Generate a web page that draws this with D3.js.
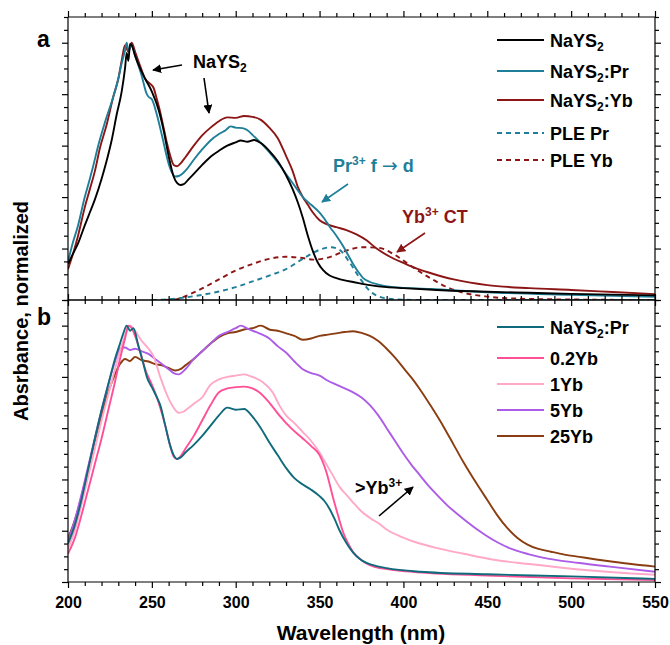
<!DOCTYPE html>
<html>
<head>
<meta charset="utf-8">
<script src="https://cdn.jsdelivr.net/npm/d3@7"></script>
<style>
  body { margin: 0; background: #fff; }
  svg { font-family: "Liberation Sans", Arial, sans-serif; font-weight: bold; }
  .axis path, .axis line { stroke: #000; stroke-width: 1.2; }
  .axis text { font-size: 16px; font-weight: bold; fill: #000; }
</style>
</head>
<body>
<svg id="chart" width="670" height="645"></svg>
<script>
// x ticks (nm)
const xTicks = [200, 250, 300, 350, 400, 450, 500, 550];

// panel a: undoped, Pr-doped and Yb-doped absorbance + PLE spectra
const nays2 = [[200,0.14],[203,0.18],[206,0.22],[210,0.29],[213,0.34],[216,0.39],[220,0.47],[223,0.54],[226,0.62],[229,0.72],[232,0.81],[234,0.9],[235,0.96],[236,0.93],[237,0.995],[238,0.99],[240,0.95],[243,0.9],[246,0.86],[250,0.81],[254,0.74],[257,0.66],[260,0.56],[263,0.48],[265,0.455],[267,0.447],[269,0.45],[272,0.47],[275,0.49],[280,0.525],[285,0.557],[290,0.58],[295,0.6],[300,0.613],[303,0.62],[307,0.615],[311,0.622],[315,0.61],[320,0.58],[325,0.54],[330,0.485],[334,0.43],[337,0.38],[340,0.32],[343,0.25],[346,0.19],[349,0.145],[352,0.117],[356,0.095],[360,0.085],[365,0.076],[370,0.07],[380,0.058],[390,0.05],[400,0.046],[420,0.039],[450,0.032],[475,0.028],[500,0.024],[525,0.021],[550,0.018]];
const naysPr = [[200,0.15],[203,0.225],[206,0.29],[210,0.4],[213,0.47],[215,0.52],[218,0.6],[222,0.69],[227,0.79],[230,0.86],[232,0.92],[234,0.97],[235,1.0],[236,0.97],[238,0.99],[240,0.95],[244,0.87],[247,0.8],[248,0.79],[250,0.78],[253,0.72],[256,0.64],[260,0.53],[262,0.495],[264,0.48],[266,0.482],[268,0.49],[271,0.51],[275,0.545],[280,0.585],[285,0.62],[290,0.645],[294,0.66],[297,0.675],[300,0.67],[304,0.668],[307,0.66],[310,0.642],[315,0.61],[320,0.575],[325,0.535],[330,0.49],[335,0.445],[340,0.4],[345,0.37],[350,0.34],[353,0.315],[356,0.285],[360,0.25],[364,0.21],[367,0.175],[370,0.14],[373,0.11],[376,0.085],[380,0.07],[385,0.06],[394,0.05],[416,0.043],[450,0.03],[500,0.02],[550,0.012]];
const naysYb = [[200,0.12],[203,0.18],[206,0.25],[210,0.36],[213,0.43],[216,0.5],[219,0.59],[223,0.68],[227,0.79],[230,0.86],[232,0.93],[234,0.99],[236,0.965],[238,1.0],[240,0.965],[243,0.91],[246,0.86],[249,0.84],[251,0.825],[253,0.78],[255,0.73],[257,0.67],[259,0.61],[261,0.56],[263,0.525],[265,0.52],[267,0.53],[270,0.555],[275,0.6],[280,0.64],[285,0.67],[290,0.695],[295,0.71],[300,0.708],[305,0.715],[310,0.712],[315,0.7],[320,0.67],[325,0.63],[330,0.56],[334,0.5],[337,0.44],[340,0.4],[343,0.37],[346,0.34],[350,0.31],[355,0.293],[360,0.283],[366,0.272],[372,0.255],[378,0.232],[384,0.2],[392,0.168],[400,0.144],[408,0.122],[416,0.105],[430,0.08],[450,0.058],[475,0.046],[500,0.039],[525,0.031],[550,0.023]];
const plePr = [[250,0],[260,0.003],[270,0.01],[280,0.02],[290,0.033],[300,0.05],[310,0.072],[320,0.095],[330,0.12],[340,0.16],[350,0.195],[357,0.205],[362,0.195],[368,0.145],[374,0.085],[380,0.035],[386,0.012],[395,0.003],[410,0],[550,0]];
const pleYb = [[258,0],[265,0.003],[270,0.015],[280,0.045],[290,0.08],[300,0.115],[310,0.14],[320,0.16],[330,0.168],[340,0.163],[346,0.157],[355,0.165],[365,0.19],[375,0.205],[385,0.203],[395,0.175],[405,0.13],[416,0.085],[426,0.05],[436,0.028],[450,0.013],[470,0.005],[500,0.002],[550,0]];

// panel b: Pr-doped with increasing Yb content
const bPr = [[200,0.15],[204,0.22],[208,0.32],[212,0.44],[216,0.56],[220,0.67],[224,0.77],[228,0.87],[231,0.93],[233,0.97],[235,1.0],[237,0.98],[239,0.99],[242,0.92],[245,0.85],[247,0.8],[250,0.76],[253,0.72],[255,0.69],[258,0.61],[261,0.53],[263,0.495],[265,0.48],[267,0.485],[270,0.505],[275,0.535],[280,0.57],[285,0.61],[290,0.65],[295,0.68],[300,0.672],[305,0.675],[310,0.645],[315,0.6],[320,0.545],[325,0.495],[330,0.445],[335,0.405],[340,0.38],[345,0.36],[350,0.335],[353,0.315],[356,0.285],[359,0.245],[362,0.2],[366,0.152],[370,0.115],[374,0.09],[378,0.075],[384,0.062],[390,0.054],[410,0.04],[450,0.03],[500,0.022],[550,0.012]];
const b02Yb = [[200,0.11],[204,0.17],[208,0.26],[212,0.36],[216,0.46],[220,0.56],[224,0.67],[228,0.78],[231,0.87],[234,0.95],[236,1.0],[238,0.99],[240,0.96],[243,0.9],[246,0.83],[250,0.77],[253,0.72],[255,0.68],[258,0.61],[261,0.53],[263,0.49],[265,0.48],[267,0.49],[270,0.52],[275,0.57],[280,0.63],[285,0.69],[290,0.74],[295,0.755],[300,0.76],[305,0.762],[310,0.755],[314,0.74],[320,0.7],[326,0.65],[333,0.6],[340,0.56],[345,0.53],[350,0.495],[354,0.43],[358,0.33],[361,0.26],[364,0.195],[367,0.15],[370,0.117],[375,0.085],[380,0.066],[387,0.053],[394,0.047],[405,0.04],[450,0.025],[500,0.014],[550,0.008]];
const b1Yb = [[200,0.13],[204,0.2],[208,0.3],[212,0.41],[216,0.52],[220,0.63],[224,0.73],[228,0.83],[231,0.9],[234,0.96],[237,1.0],[240,0.98],[244,0.94],[248,0.91],[251,0.88],[255,0.8],[259,0.73],[262,0.69],[266,0.66],[269,0.665],[272,0.68],[276,0.7],[280,0.72],[285,0.77],[290,0.79],[295,0.8],[300,0.805],[305,0.81],[310,0.8],[316,0.78],[322,0.74],[326,0.69],[330,0.65],[335,0.62],[340,0.585],[345,0.55],[350,0.505],[354,0.46],[358,0.415],[362,0.37],[366,0.34],[370,0.31],[375,0.275],[380,0.25],[386,0.225],[390,0.205],[398,0.178],[406,0.158],[420,0.132],[436,0.11],[453,0.088],[475,0.07],[503,0.05],[525,0.038],[550,0.028]];
const b5Yb = [[200,0.16],[204,0.24],[208,0.34],[212,0.45],[216,0.56],[220,0.67],[224,0.77],[228,0.86],[231,0.91],[234,0.915],[237,0.905],[240,0.91],[244,0.9],[248,0.89],[252,0.87],[256,0.85],[260,0.83],[263,0.815],[266,0.81],[270,0.83],[275,0.87],[280,0.9],[285,0.93],[290,0.96],[295,0.975],[300,0.99],[303,1.0],[308,0.985],[314,0.97],[320,0.95],[325,0.92],[330,0.895],[335,0.86],[340,0.83],[345,0.815],[350,0.805],[355,0.785],[360,0.77],[365,0.755],[370,0.74],[375,0.72],[380,0.69],[385,0.65],[390,0.6],[395,0.55],[400,0.5],[405,0.455],[410,0.415],[415,0.375],[420,0.34],[426,0.3],[436,0.245],[444,0.205],[456,0.155],[464,0.13],[475,0.108],[483,0.095],[505,0.074],[523,0.06],[550,0.04]];
const b25Yb = [[200,0.17],[204,0.24],[208,0.33],[212,0.44],[216,0.55],[220,0.65],[224,0.74],[228,0.81],[231,0.85],[234,0.87],[237,0.862],[240,0.878],[244,0.865],[248,0.86],[252,0.85],[256,0.845],[260,0.835],[264,0.825],[267,0.83],[270,0.845],[275,0.87],[280,0.9],[285,0.93],[290,0.955],[295,0.97],[300,0.975],[305,0.985],[310,0.99],[315,1.0],[320,0.985],[325,0.98],[330,0.97],[335,0.96],[340,0.945],[345,0.95],[350,0.96],[355,0.965],[360,0.97],[365,0.975],[370,0.978],[375,0.972],[380,0.96],[385,0.94],[390,0.91],[395,0.875],[400,0.835],[405,0.795],[410,0.75],[416,0.69],[424,0.605],[430,0.535],[436,0.465],[444,0.38],[450,0.32],[456,0.26],[462,0.21],[468,0.172],[474,0.146],[480,0.13],[488,0.118],[496,0.107],[505,0.098],[515,0.088],[525,0.079],[537,0.069],[550,0.06]];

const teal = "#1f7f98", tealDark = "#0f6b7c", darkRed = "#8c1616",
      pink = "#ff4f97", lightPink = "#ffa8c8", purple = "#ac5ce6", brown = "#8b3d12";

const seriesA = [
  { name: "NaYS", sub: "2", tail: "", data: nays2, color: "#000", dash: null },
  { name: "NaYS", sub: "2", tail: ":Pr", data: naysPr, color: teal, dash: null },
  { name: "NaYS", sub: "2", tail: ":Yb", data: naysYb, color: darkRed, dash: null },
  { name: "PLE Pr", sub: "", tail: "", data: plePr, color: teal, dash: "5,4" },
  { name: "PLE Yb", sub: "", tail: "", data: pleYb, color: darkRed, dash: "5,4" }
];
const seriesB = [
  { name: "NaYS", sub: "2", tail: ":Pr", data: bPr, color: tealDark, dash: null },
  { name: "0.2Yb", sub: "", tail: "", data: b02Yb, color: pink, dash: null },
  { name: "1Yb", sub: "", tail: "", data: b1Yb, color: lightPink, dash: null },
  { name: "5Yb", sub: "", tail: "", data: b5Yb, color: purple, dash: null },
  { name: "25Yb", sub: "", tail: "", data: b25Yb, color: brown, dash: null }
];

const svg = d3.select("#chart");
const left = 68, right = 655, topA = 17, mid = 300, bottomB = 582;

const x = d3.scaleLinear().domain([200, 550]).range([left, right]);
const yA = d3.scaleLinear().domain([0, 1.1]).range([mid, topA]);
const yB = d3.scaleLinear().domain([0, 1.1]).range([bottomB, mid]);

// arrow heads
const defs = svg.append("defs");
[["arrBlack", "#000"], ["arrTeal", teal], ["arrRed", darkRed]].forEach(([id, c]) => {
  defs.append("marker")
    .attr("id", id)
    .attr("viewBox", "0 0 10 10")
    .attr("refX", 9).attr("refY", 5)
    .attr("markerWidth", 9).attr("markerHeight", 9)
    .attr("markerUnits", "userSpaceOnUse")
    .attr("orient", "auto")
    .append("path").attr("d", "M0,0 L10,5 L0,10 Z").attr("fill", c);
});

function drawPanel(y, series, clipId) {
  defs.append("clipPath").attr("id", clipId)
    .append("rect")
    .attr("x", left).attr("y", y.range()[1])
    .attr("width", right - left).attr("height", y.range()[0] - y.range()[1]);

  const line = d3.line()
    .x(d => x(d[0]))
    .y(d => y(d[1]))
    .curve(d3.curveMonotoneX);

  svg.append("g").attr("clip-path", `url(#${clipId})`)
    .selectAll("path")
    .data(series.slice().reverse())
    .join("path")
    .attr("d", d => line(d.data))
    .attr("fill", "none")
    .attr("stroke", d => d.color)
    .attr("stroke-width", 1.9)
    .attr("stroke-dasharray", d => d.dash);

  // frame and ticks
  const y0 = y.range()[0], y1 = y.range()[1];
  const minorX = d3.range(200, 551, 10);
  const yMinor = d3.range(0, 1.101, 0.05);

  const axBottom = svg.append("g").attr("class", "axis")
    .attr("transform", `translate(0,${y0})`)
    .call(d3.axisBottom(x).tickValues(minorX).tickSize(4).tickFormat(""));
  axBottom.selectAll(".tick line")
    .attr("y2", v => xTicks.includes(v) ? 6 : 4);
  axBottom.select(".domain").attr("d", `M${left},0H${right}`);

  const axTop = svg.append("g").attr("class", "axis")
    .attr("transform", `translate(0,${y1})`)
    .call(d3.axisTop(x).tickValues(minorX).tickSize(4).tickFormat(""));
  axTop.selectAll(".tick line")
    .attr("y2", v => xTicks.includes(v) ? -6 : -4);
  axTop.select(".domain").attr("d", `M${left},0H${right}`);

  const axLeft = svg.append("g").attr("class", "axis")
    .attr("transform", `translate(${left},0)`)
    .call(d3.axisLeft(y).tickValues(yMinor).tickSize(4).tickFormat(""));
  axLeft.selectAll(".tick line")
    .attr("x2", (v, i) => i % 4 === 0 ? -6 : -4);
  axLeft.select(".domain").attr("d", `M0,${y0}V${y1}`);

  const axRight = svg.append("g").attr("class", "axis")
    .attr("transform", `translate(${right},0)`)
    .call(d3.axisRight(y).tickValues(yMinor).tickSize(4).tickFormat(""));
  axRight.selectAll(".tick line")
    .attr("x2", (v, i) => i % 4 === 0 ? 6 : 4);
  axRight.select(".domain").attr("d", `M0,${y0}V${y1}`);
}

drawPanel(yA, seriesA, "clipA");
drawPanel(yB, seriesB, "clipB");

// bottom axis labels
svg.append("g").attr("class", "axis")
  .attr("transform", `translate(0,${bottomB})`)
  .call(d3.axisBottom(x).tickValues(xTicks).tickSize(0).tickPadding(15))
  .call(g => g.select(".domain").remove());

svg.append("text")
  .attr("x", 361).attr("y", 640)
  .attr("text-anchor", "middle")
  .attr("font-size", 21)
  .text("Wavelength (nm)");

svg.append("text")
  .attr("transform", `translate(28,311) rotate(-90)`)
  .attr("text-anchor", "middle")
  .attr("font-size", 20)
  .text("Absrbance, normalized");

svg.append("text").attr("x", 37).attr("y", 47).attr("font-size", 23).text("a");
svg.append("text").attr("x", 37).attr("y", 325).attr("font-size", 23).text("b");

// legends
function legend(series, rows) {
  const g = svg.append("g");
  series.forEach((s, i) => {
    g.append("line")
      .attr("x1", 497).attr("x2", 544)
      .attr("y1", rows[i]).attr("y2", rows[i])
      .attr("stroke", s.color).attr("stroke-width", 1.9)
      .attr("stroke-dasharray", s.dash);
    const t = g.append("text")
      .attr("x", 550).attr("y", rows[i] + 6.5)
      .attr("font-size", 18);
    t.append("tspan").text(s.name);
    if (s.sub) {
      t.append("tspan").attr("font-size", 12).attr("dy", 4).text(s.sub);
      t.append("tspan").attr("dy", -4).text(s.tail);
    }
  });
}
legend(seriesA, [40, 71, 100, 133, 160]);
legend(seriesB, [327, 358, 384, 410, 436]);

// annotations
function arrow(x1, y1, x2, y2, color, marker) {
  svg.append("line")
    .attr("x1", x1).attr("y1", y1).attr("x2", x2).attr("y2", y2)
    .attr("stroke", color).attr("stroke-width", 1.6)
    .attr("marker-end", `url(#${marker})`);
}

const lblNa = svg.append("text").attr("x", 193).attr("y", 68).attr("font-size", 18);
lblNa.append("tspan").text("NaYS");
lblNa.append("tspan").attr("font-size", 12).attr("dy", 4).text("2");
arrow(182, 65, 153, 70, "#000", "arrBlack");
arrow(204, 78, 209, 113, "#000", "arrBlack");

const lblPr = svg.append("text").attr("x", 333).attr("y", 172).attr("font-size", 18).attr("fill", teal);
lblPr.append("tspan").text("Pr");
lblPr.append("tspan").attr("font-size", 12).attr("dy", -7).text("3+");
lblPr.append("tspan").attr("dy", 7).text(" f ");
lblPr.append("tspan").attr("font-family", "DejaVu Sans").attr("font-weight", "normal").attr("font-size", 19).text("\u2192");
lblPr.append("tspan").text(" d");
arrow(348, 184, 322, 202, teal, "arrTeal");

const lblYb = svg.append("text").attr("x", 402).attr("y", 223).attr("font-size", 18).attr("fill", darkRed);
lblYb.append("tspan").text("Yb");
lblYb.append("tspan").attr("font-size", 12).attr("dy", -7).text("3+");
lblYb.append("tspan").attr("dy", 7).text(" CT");
arrow(425, 233, 397, 252, darkRed, "arrRed");

const lblMore = svg.append("text").attr("x", 355).attr("y", 494).attr("font-size", 18);
lblMore.append("tspan").text(">Yb");
lblMore.append("tspan").attr("font-size", 12).attr("dy", -7).text("3+");
arrow(379, 516, 413, 487, "#000", "arrBlack");
</script>
</body>
</html>
